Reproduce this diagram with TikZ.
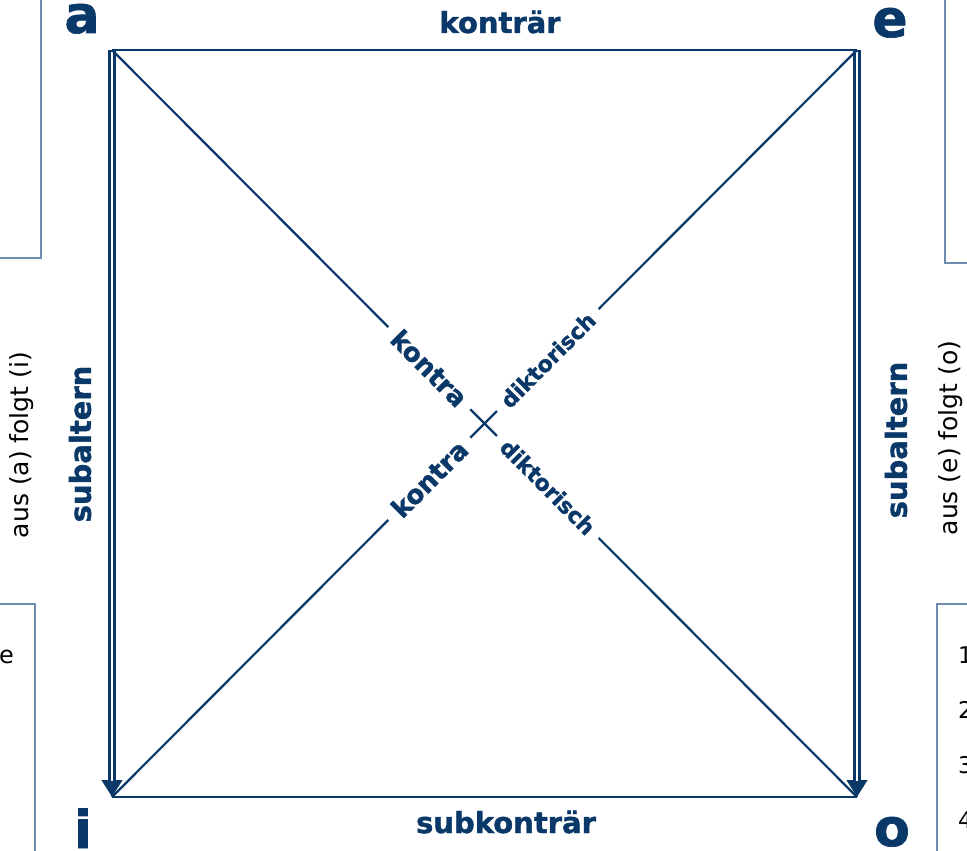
\documentclass[tikz,border=0pt]{standalone}
\usepackage{fontspec}
\setmainfont{DejaVu Sans}
\newfontfamily\heavyfont{DejaVu Sans}[UprightFont={* Bold},FakeBold=1.3]
\usetikzlibrary{arrows.meta}
\definecolor{navy}{RGB}{10,56,105}
\definecolor{boxline}{RGB}{110,140,175}
\begin{document}
\begin{tikzpicture}[x=1pt,y=-1pt,
  lbl/.style={text=navy,font=\heavyfont\fontsize{29}{33}\selectfont,inner sep=0pt},
  corner/.style={text=navy,font=\heavyfont\fontsize{52}{56}\selectfont,inner sep=0pt},
  diag/.style={text=navy,font=\heavyfont\fontsize{26}{30}\selectfont,fill=white,sloped,inner xsep=10pt,inner ysep=1pt},
  diagsmall/.style={diag,font=\heavyfont\fontsize{22}{26}\selectfont},
  note/.style={text=black,font=\fontsize{25}{29}\selectfont,inner sep=0pt},
  num/.style={text=black,font=\fontsize{23}{27}\selectfont,inner sep=0pt,anchor=base west},
  sideline/.style={draw=navy,line width=2.4pt},
  diagline/.style={draw=navy,line width=2.2pt},
  subarrow/.style={draw=navy,line width=7.6pt,-{Triangle[length=17pt,width=20pt]}},
  subgap/.style={draw=white,line width=2.8pt,shorten <=1.8pt,shorten >=16pt},
  frame/.style={draw=boxline,line width=1.5pt},
]
\useasboundingbox (0,0) rectangle (967,851);
\fill[white] (0,0) rectangle (967,851);

% partial boxes at the edges
\draw[frame] (-5,-5) rectangle (41,258);
\draw[frame] (-5,604) rectangle (35,860);
\draw[frame] (945,-5) rectangle (975,263);
\draw[frame] (937,604) rectangle (975,860);

% corners
\coordinate (A) at (112,50);
\coordinate (E) at (857,50);
\coordinate (I) at (112,797);
\coordinate (O) at (857,797);

% square sides
\draw[sideline] (A) -- (E);
\draw[sideline] (I) -- (O);
\draw[subarrow] (A) -- (I);
\draw[subgap] (A) -- (I);
\draw[subarrow] (E) -- (O);
\draw[subgap] (E) -- (O);

% diagonals
\draw[diagline] (A) -- (O)
  node[diag,pos=0.426] (k1) {kontra}
  node[diagsmall,pos=0.585] (d1) {diktorisch};
\draw[diagline] (E) -- (I)
  node[diagsmall,pos=0.415] (d2) {diktorisch}
  node[diag,pos=0.574] (k2) {kontra};

% corner letters
\node[corner,anchor=base] (la) at (82,33) {a};
\node[corner,anchor=base] (le) at (890,37) {e};
\node[corner,anchor=base] (li) at (83,848) {i};
\node[corner,anchor=base] (lo) at (892,846) {o};

% side labels
\node[lbl,anchor=base] (top) at (500,33) {konträr};
\node[lbl,anchor=base] (bot) at (506,833) {subkonträr};
\node[lbl,rotate=90] (sl) at (80,444) {subaltern};
\node[lbl,rotate=90] (sr) at (896,440) {subaltern};
\node[note,rotate=90] (nl) at (22,445) {aus (a) folgt (i)};
\node[note,rotate=90] (nr) at (951,438) {aus (e) folgt (o)};

% texts in the cut boxes
\node[note,anchor=base east,font=\fontsize{24}{28}\selectfont] (te) at (14,663) {e};
\node[num] (n1) at (958,663) {1};
\node[num] (n2) at (958,718) {2};
\node[num] (n3) at (958,773) {3};
\node[num] (n4) at (958,828) {4};
\end{tikzpicture}
\end{document}
